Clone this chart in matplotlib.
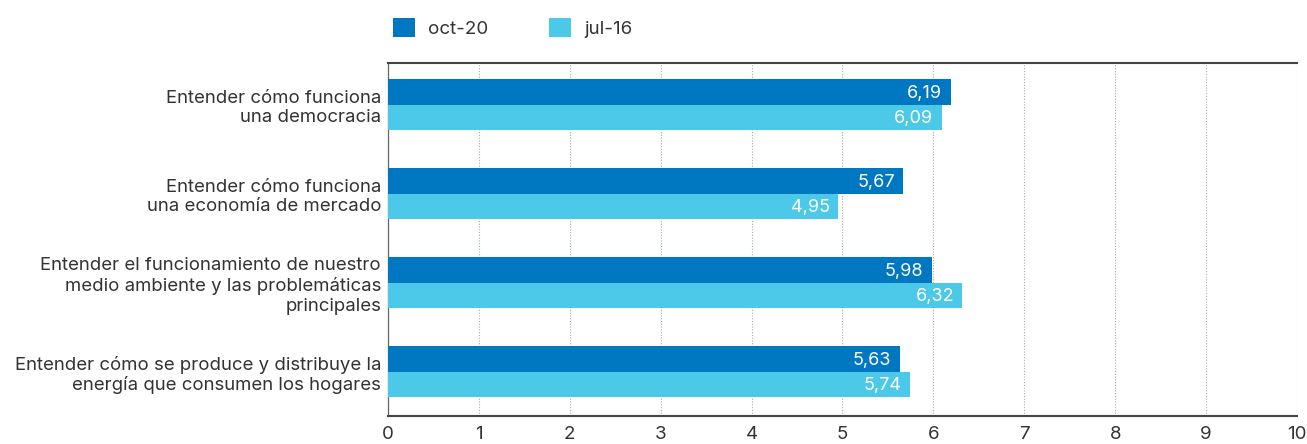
import matplotlib.pyplot as plt
import numpy as np

# datos
categorias = [
    "Entender cómo funciona\nuna democracia",
    "Entender cómo funciona\nuna economía de mercado",
    "Entender el funcionamiento de nuestro\nmedio ambiente y las problemáticas\nprincipales",
    "Entender cómo se produce y distribuye la\nenergía que consumen los hogares",
]
oct20 = [6.19, 5.67, 5.98, 5.63]
jul16 = [6.09, 4.95, 6.32, 5.74]
series = ["oct-20", "jul-16"]

azul = "#0077c1"
celeste = "#4cc8e8"
texto = "#333333"

plt.rcParams['font.family'] = ['Inter', 'DejaVu Sans']

fig = plt.figure(figsize=(13.07, 4.44), dpi=100)
ax = fig.add_axes([0.2969, 0.063, 0.6954, 0.795])

y = np.arange(len(categorias))
h = 0.285
b1 = ax.barh(y - h / 2, oct20, height=h, color=azul, label=series[0], zorder=3)
b2 = ax.barh(y + h / 2, jul16, height=h, color=celeste, label=series[1], zorder=3)

for barras, vals in [(b1, oct20), (b2, jul16)]:
    for barra, v in zip(barras, vals):
        ax.annotate(f"{v:.2f}".replace(".", ","),
                    (barra.get_width(), barra.get_y() + barra.get_height() / 2),
                    xytext=(-6, -1), textcoords="offset points",
                    ha="right", va="center", color="white", fontsize=13, zorder=4)

ax.set_xlim(0, 10)
ax.set_ylim(3.5, -0.47)
ax.set_xticks(range(0, 11))
ax.set_yticks(y)
ax.set_yticklabels(categorias, fontsize=13.4, color=texto, linespacing=1.2)
ax.tick_params(axis="x", labelsize=13.5, colors=texto, length=0, pad=7)
ax.tick_params(axis="y", length=0, pad=5)

ax.xaxis.grid(True, linestyle=(0, (1, 1.5)), color="#aaaaaa", linewidth=0.8, zorder=0)
ax.set_axisbelow(True)

ax.spines["right"].set_visible(False)
ax.spines["top"].set_color("#444444")
ax.spines["top"].set_linewidth(1.5)
ax.spines["bottom"].set_color("#444444")
ax.spines["bottom"].set_linewidth(1.5)
ax.spines["left"].set_color("#666666")
ax.spines["left"].set_linewidth(0.9)

ax.legend(loc="lower left", bbox_to_anchor=(-0.003, 1.05), ncol=2, frameon=False,
          fontsize=13.5, handlelength=1.2, handleheight=1.2, handletextpad=0.7,
          columnspacing=3.2, borderaxespad=0, labelcolor=texto)

fig.savefig("out.png", dpi=100)
